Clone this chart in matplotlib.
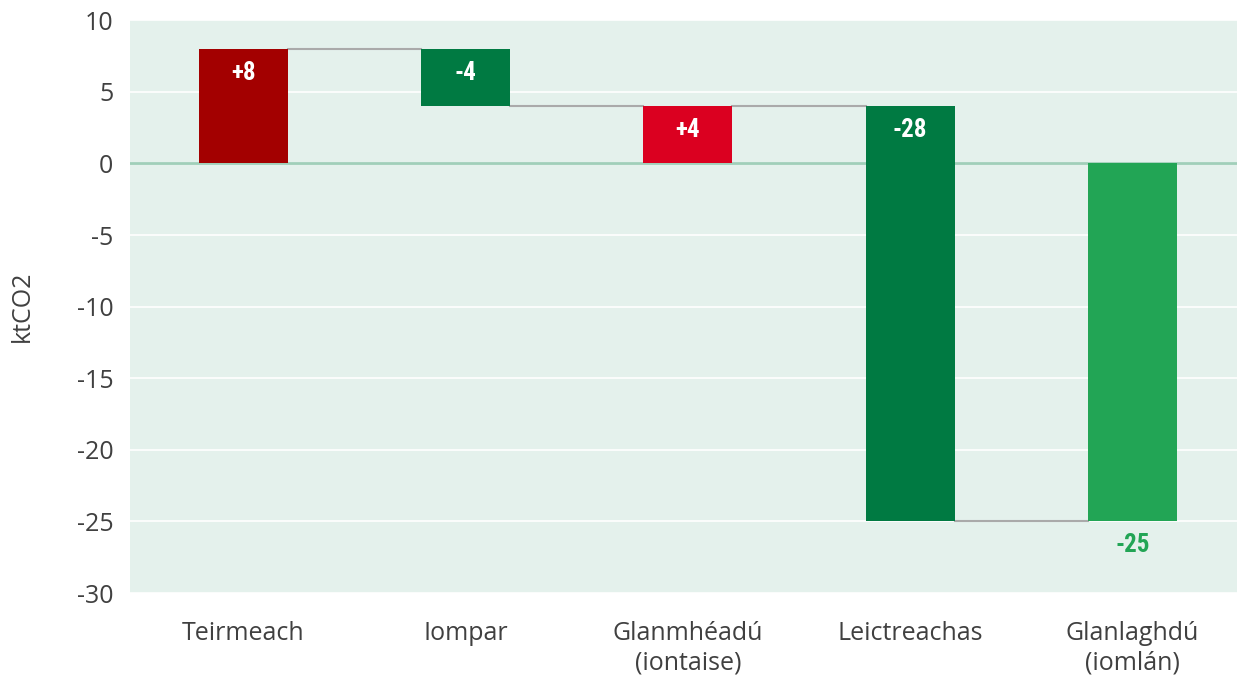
import matplotlib
matplotlib.use("Agg")
import matplotlib.pyplot as plt
from matplotlib import font_manager

# categories and bar extents (base, end)
categories = ["Teirmeach", "Iompar", "Glanmhéadú\n(iontaise)", "Leictreachas", "Glanlaghdú\n(iomlán)"]
bar_start = [0, 8, 0, 4, 0]
bar_end = [8, 4, 4, -25, -25]
value_labels = ["+8", "-4", "+4", "-28", "-25"]
bar_colors = ["#a30000", "#007a42", "#db0020", "#007a42", "#22a555"]

plt.rcParams['font.family'] = ['Open Sans', 'DejaVu Sans']
plt.rcParams['axes.unicode_minus'] = False

# pick a narrow bold face for the value labels if one is installed
label_font = "Roboto"
for name in ["Liberation Sans Narrow", "Roboto Condensed", "Open Sans Condensed"]:
    try:
        font_manager.findfont(name, fallback_to_default=False)
        label_font = name
        break
    except ValueError:
        pass

fig = plt.figure(figsize=(12.37, 6.77), dpi=100)
ax = fig.add_axes([0.105, 0.124, 0.895, 0.846])
ax.set_facecolor("#e4f1ec")

x = list(range(len(categories)))
width = 0.4
heights = [e - s for s, e in zip(bar_start, bar_end)]
ax.bar(x, heights, bottom=bar_start, width=width, color=bar_colors, zorder=3)

# connector lines between bars
for i in range(len(x) - 1):
    lvl = bar_end[i]
    ax.plot([x[i] + width / 2, x[i + 1] - width / 2], [lvl, lvl],
            color="#aaaaaa", lw=1.5, zorder=2)

ax.axhline(0, color="#a0cfb9", lw=2, zorder=2)

# value labels
for i, lab in enumerate(value_labels):
    if i < len(x) - 1:
        ax.annotate(lab, (x[i], max(bar_start[i], bar_end[i])), xytext=(0, -17),
                    textcoords="offset points", ha="center", va="center",
                    color="white", fontsize=18, fontweight="bold",
                    family=[label_font, "DejaVu Sans"], zorder=4)
    else:
        ax.annotate(lab, (x[i], min(bar_start[i], bar_end[i])), xytext=(0, -17),
                    textcoords="offset points", ha="center", va="center",
                    color=bar_colors[i], fontsize=18, fontweight="bold",
                    family=[label_font, "DejaVu Sans"], zorder=4)

ax.set_ylim(-30, 10)
ax.set_xlim(-0.51, 4.47)
ax.set_yticks(range(-30, 11, 5))
ax.yaxis.grid(True, color="white", lw=1.2, zorder=1)
ax.set_axisbelow(True)
ax.set_xticks(x)
ax.set_xticklabels(categories, linespacing=1.25)
ax.tick_params(axis="both", length=0, labelsize=18, colors="#404040")
ax.tick_params(axis="y", pad=12)
ax.tick_params(axis="x", pad=20)
for sp in ax.spines.values():
    sp.set_visible(False)

ax.set_ylabel("ktCO2", fontsize=18, color="#404040", labelpad=30)

fig.savefig("out.png", dpi=100)
